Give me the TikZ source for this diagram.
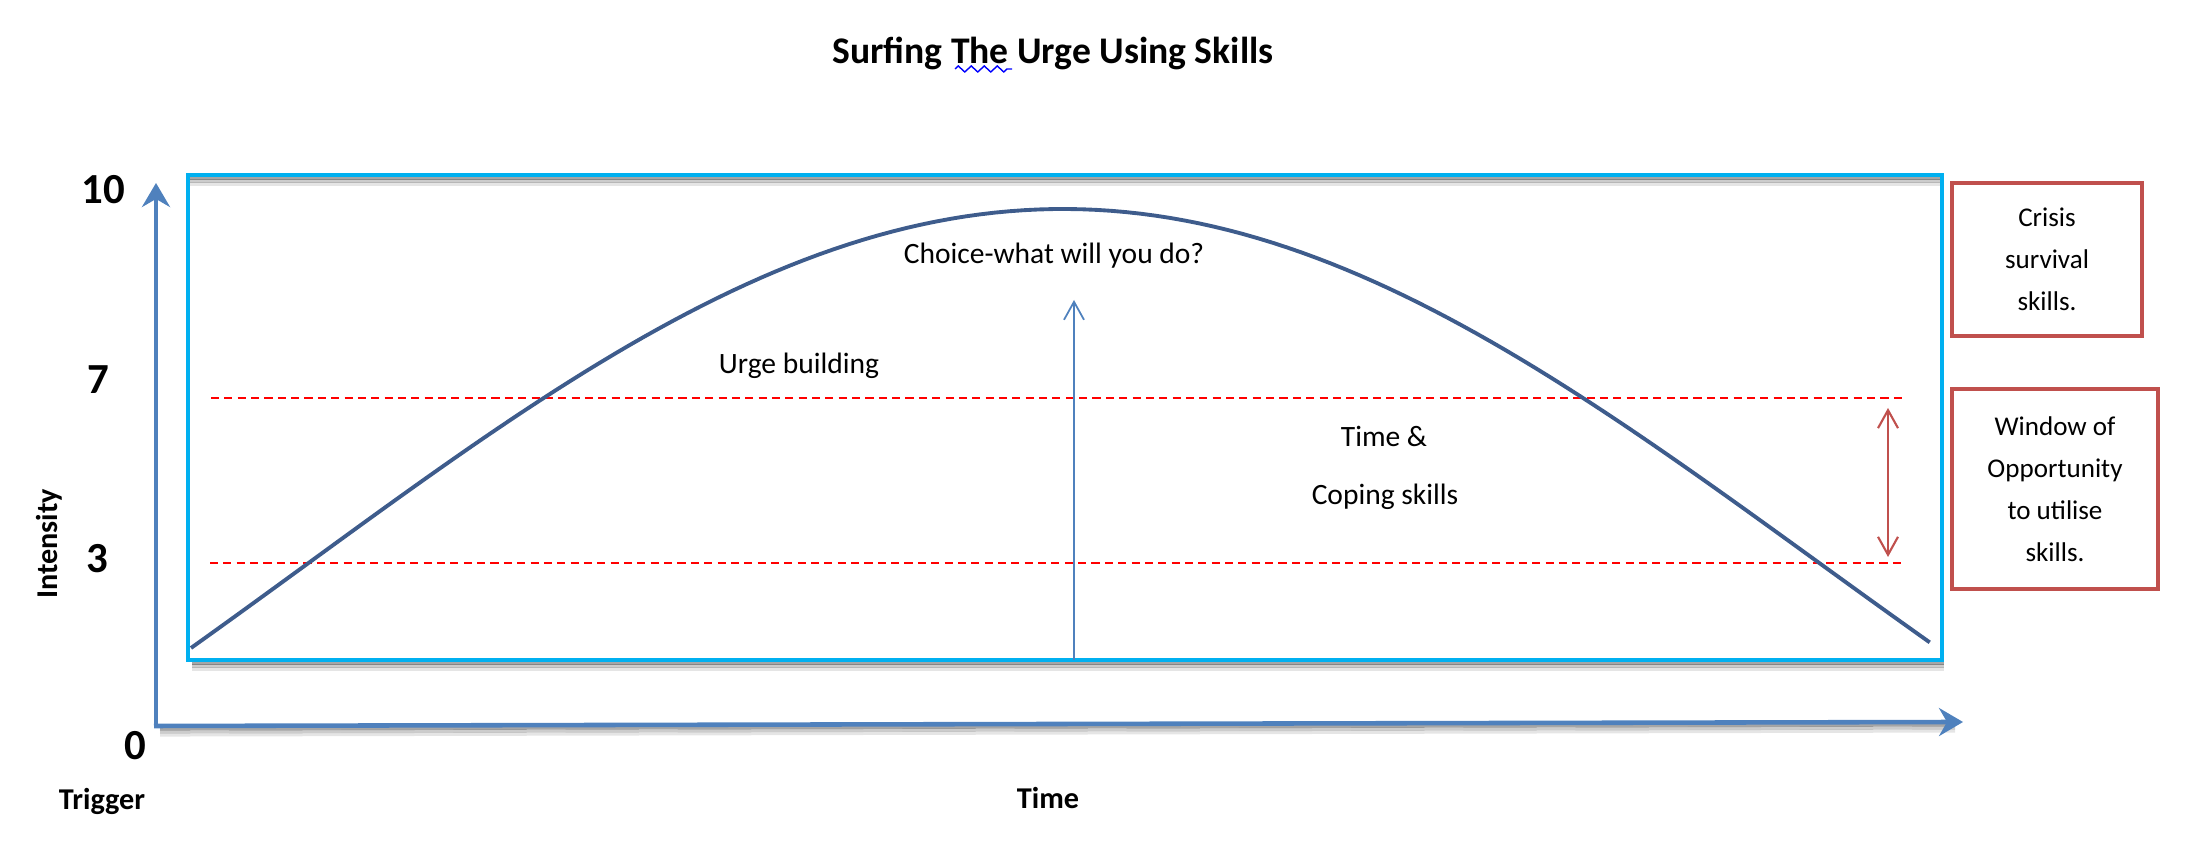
\documentclass[tikz,border=0pt]{standalone}
\usepackage{fontspec}
\setmainfont{Carlito}
\usetikzlibrary{arrows.meta,decorations.pathmorphing}
\definecolor{framecyan}{HTML}{00B0F0}
\definecolor{axisblue}{HTML}{4F81BD}
\definecolor{curveblue}{RGB}{62,92,140}
\definecolor{boxred}{HTML}{C0504D}
\definecolor{levelred}{HTML}{FF0000}

\begin{document}
\begin{tikzpicture}[every node/.style={inner sep=0pt},
  txt/.style={font=\fontsize{8.4}{10}\selectfont},
  axlabel/.style={font=\bfseries\fontsize{8.6}{10}\selectfont},
  num/.style={font=\bfseries\fontsize{12.2}{14}\selectfont},
  skillbox/.style={draw=boxred, line width=1.1pt, align=center, font=\fontsize{7.7}{12}\selectfont},
  level/.style={draw=levelred, line width=0.8pt, dash pattern=on 2.3pt off 1.5pt},
  axis/.style={draw=axisblue, line width=1.3pt, -{Stealth[length=0.24cm, width=0.28cm, inset=0.08cm]}},
  thin arrow/.style={line width=0.5pt, -{Straight Barb[length=0.18cm, width=0.2cm]}}]
  \useasboundingbox (0,0) rectangle (21.91,8.67);

  \node[font=\bfseries\fontsize{10.7}{13}\selectfont] (title) at (10.53,8.14) {Surfing The Urge Using Skills};
  \draw[blue, line width=0.4pt, decorate, decoration={zigzag, segment length=0.13cm, amplitude=0.03cm}] (9.55,7.98) -- (10.12,7.98);

  \foreach \d/\op in {0.03/0.35, 0.06/0.2, 0.09/0.1} {
    \draw[black, opacity=\op, line width=0.9pt] (1.90,{6.92-\d}) -- (19.40,{6.92-\d});
    \draw[black, opacity=\op, line width=0.9pt] (1.92,{2.07-\d}) -- (19.44,{2.07-\d});
    \draw[black, opacity=\op, line width=0.9pt] (1.60,{1.41-\d}) -- (19.55,{1.45-\d});
  }
  \draw[framecyan, line width=1.2pt] (1.88,2.07) rectangle (19.42,6.92);

  \coordinate (origin) at (1.56,1.41);
  \coordinate (ytip) at (1.56,6.84);
  \coordinate (xstart) at (1.54,1.41);
  \coordinate (xtip) at (19.63,1.45);
  \draw[axis] (origin) -- (ytip);
  \draw[axis] (xstart) -- (xtip);

  \node[num] (ten) at (1.03,6.77) {10};
  \node[num] (seven) at (0.98,4.87) {7};
  \node[num] (three) at (0.97,3.08) {3};
  \node[num] (zero) at (1.35,1.21) {0};
  \node[axlabel, rotate=90] (intensity) at (0.49,3.23) {Intensity};
  \node[axlabel] (trigger) at (1.02,0.66) {Trigger};
  \node[axlabel] (time) at (10.48,0.69) {Time};

  \coordinate (sevenL) at (2.11,4.69);
  \coordinate (sevenR) at (19.04,4.69);
  \coordinate (threeL) at (2.10,3.04);
  \coordinate (threeR) at (19.03,3.04);
  \draw[level] (sevenL) -- (sevenR);
  \draw[level] (threeL) -- (threeR);

  \draw[curveblue, line width=1.1pt] plot[domain=0:1, samples=120] ({1.91+17.41*\x}, {2.19+0.04*\x+4.37*(sin(180*\x)-0.1*sin(180*\x)*(1-sin(180*\x)))});

  \coordinate (choicebase) at (10.74,2.07);
  \coordinate (choicetip) at (10.74,5.67);
  \draw[thin arrow, axisblue] (choicebase) -- (choicetip);

  \coordinate (windowtop) at (18.88,4.59);
  \coordinate (windowbot) at (18.88,3.10);
  \draw[boxred, line width=0.6pt, {Straight Barb[length=0.18cm, width=0.2cm]}-{Straight Barb[length=0.18cm, width=0.2cm]}] (windowtop) -- (windowbot);

  \node[txt] (choice) at (10.54,6.11) {Choice-what will you do?};
  \node[txt] (building) at (7.99,5.01) {Urge building};
  \node[txt] (timeand) at (13.84,4.31) {Time \&};
  \node[txt] (coping) at (13.85,3.70) {Coping skills};

  \node[skillbox, minimum width=1.90cm, minimum height=1.53cm] (crisis) at (20.47,6.075) {Crisis\\survival\\skills.};
  \node[skillbox, minimum width=2.06cm, minimum height=2.00cm] (window) at (20.55,3.78) {Window of\\Opportunity\\to utilise\\skills.};
\end{tikzpicture}
\end{document}
